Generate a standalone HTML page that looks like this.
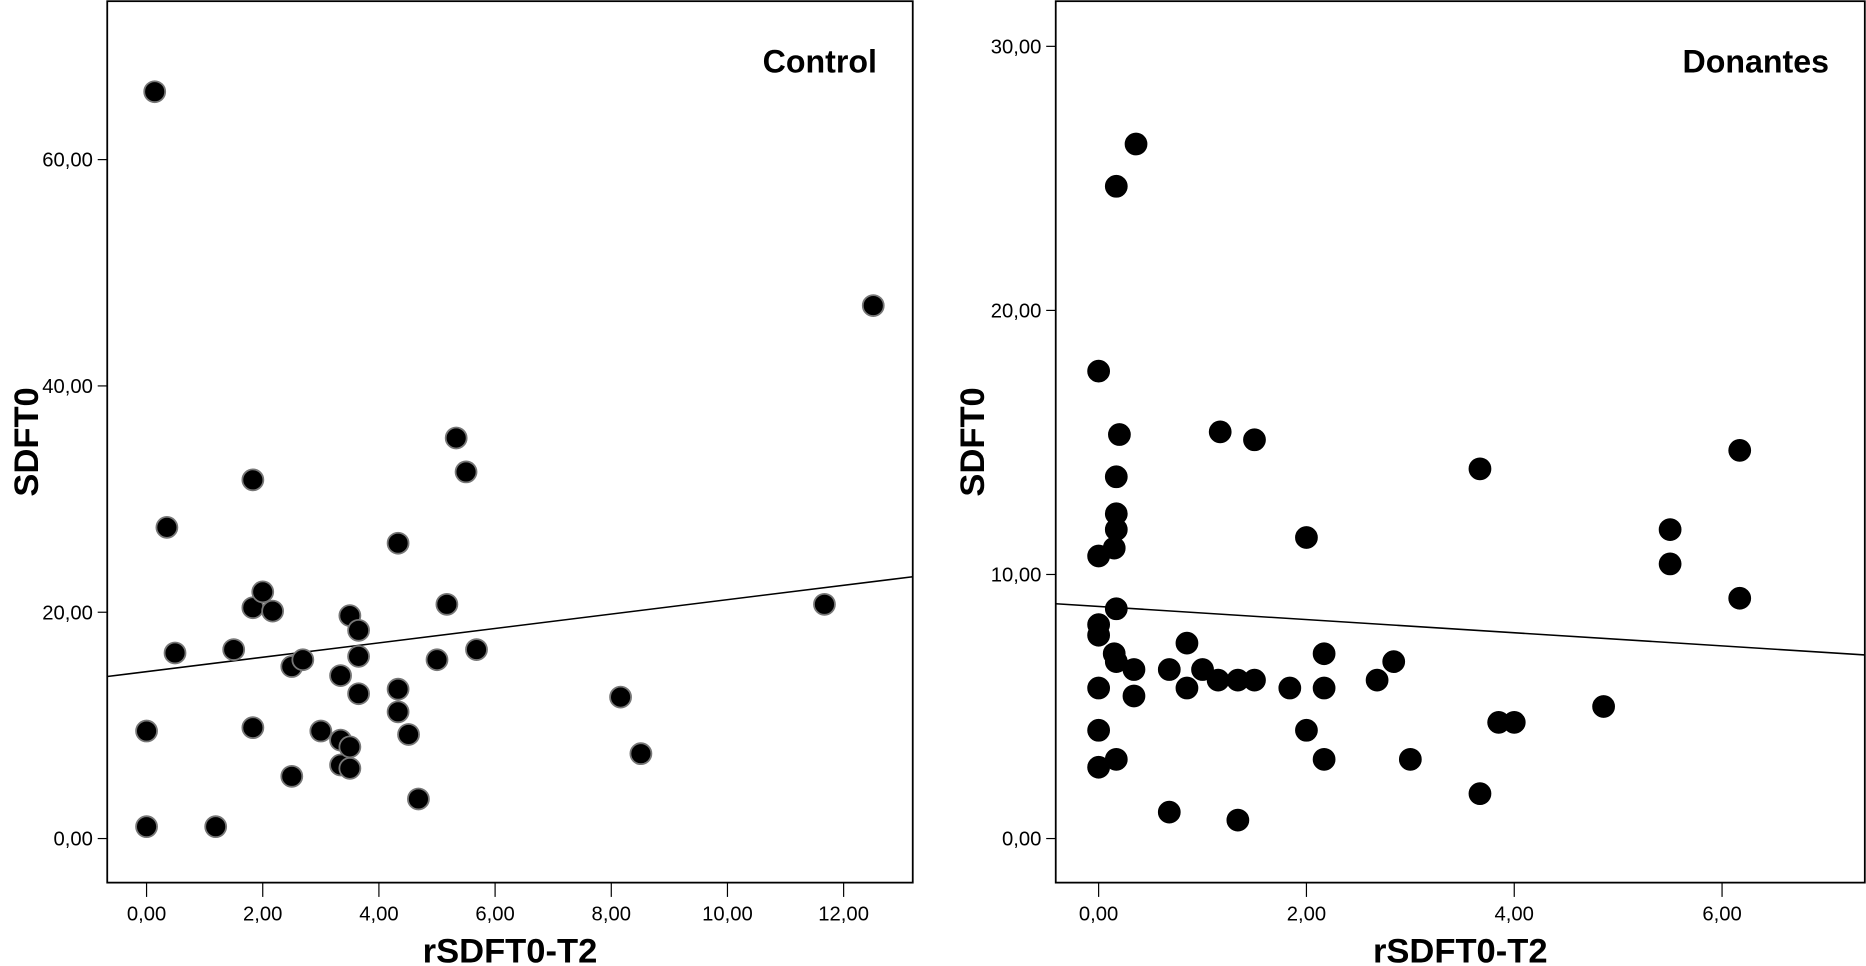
<!DOCTYPE html>
<html><head><meta charset="utf-8"><style>
html,body{margin:0;padding:0;background:#fff;}
svg{display:block;}
text{font-family:"Liberation Sans",Arial,sans-serif;fill:#000;}
</style></head>
<body>
<svg id="chart" width="1866" height="966" viewBox="0 0 1566 811" preserveAspectRatio="none" xmlns="http://www.w3.org/2000/svg"></svg>
<script>
// Control panel data
const controlX = [0.14,0.35,0,0,0.49,1.19,1.5,1.83,1.83,1.83,2.0,2.17,2.5,2.5,2.69,3.0,3.34,3.34,3.34,3.5,3.5,3.5,3.65,3.65,3.65,4.33,4.33,4.33,4.51,4.68,5.0,5.17,5.33,5.5,5.68,8.16,8.51,11.67,12.51];
const controlY = [66,27.5,9.5,1.05,16.4,1.05,16.7,31.7,20.4,9.8,21.8,20.1,15.2,5.5,15.8,9.5,14.4,8.7,6.5,19.7,8.1,6.2,18.4,16.1,12.8,26.1,13.2,11.2,9.2,3.5,15.8,20.7,35.4,32.4,16.7,12.5,7.5,20.7,47.1];
const controlXTicks = [0,2,4,6,8,10,12];
const controlYTicks = [0,20,40,60];
const controlFit = [14.75, 0.636]; // intercept, slope
// Donantes panel data
const donX = [0,0,0,0,0,0,0,0.17,0.36,0.2,0.17,0.17,0.17,0.15,0.17,0.15,0.17,0.17,0.34,0.34,0.68,0.68,0.85,0.85,1.0,1.15,1.17,1.34,1.34,1.5,1.5,1.84,2.0,2.0,2.17,2.17,2.17,2.68,2.84,3.0,3.67,3.67,3.85,4.0,4.86,5.5,5.5,6.17,6.17];
const donY = [17.7,10.7,8.1,7.7,5.7,4.1,2.7,24.7,26.3,15.3,13.7,12.3,11.7,11.0,8.7,7.0,6.7,3.0,6.4,5.4,1.0,6.4,7.4,5.7,6.4,6.0,15.4,6.0,0.7,6.0,15.1,5.7,11.4,4.1,7.0,5.7,3.0,6.0,6.7,3.0,14.0,1.7,4.4,4.4,5.0,10.4,11.7,14.7,9.1];
const donXTicks = [0,2,4,6];
const donYTicks = [0,10,20,30];
const donFit = [8.79, -0.249];

const NS = "http://www.w3.org/2000/svg";
const svg = document.getElementById('chart');
function mk(tag, attrs, parent){ const e=document.createElementNS(NS,tag); for(const k in attrs) e.setAttribute(k,attrs[k]); (parent||svg).appendChild(e); return e; }
function fmt(v){ return v.toFixed(2).replace('.',','); }

function panel(cfg){
  const g = mk('g',{});
  
  
  const L=cfg.left,R=cfg.right,T=1,B=741;
  const sx = v => cfg.x0px + v*cfg.xUnit;
  const sy = v => cfg.y0px - v*cfg.yUnit;
  const frame = mk('rect',{x:L,y:T,width:R-L,height:B-T,fill:'none',stroke:'#000','stroke-width':1.5},g);
  
  
  cfg.xTicks.forEach(t=>{
    mk('line',{x1:sx(t),x2:sx(t),y1:B,y2:B+12,stroke:'#000','stroke-width':1},g);
    const tx = mk('text',{x:sx(t),y:B+32,'font-size':17,'text-anchor':'middle'},g);
    tx.textContent = fmt(t);
    
    
  });
  cfg.yTicks.forEach(t=>{
    mk('line',{x1:L-8,x2:L,y1:sy(t),y2:sy(t),stroke:'#000','stroke-width':1},g);
    const tx = mk('text',{x:L-12,y:sy(t)+6,'font-size':17,'text-anchor':'end'},g);
    tx.textContent = fmt(t);
    
    
  });
  const xmin=(L-cfg.x0px)/cfg.xUnit, xmax=(R-cfg.x0px)/cfg.xUnit;
  const fl = mk('line',{x1:L,y1:sy(cfg.fit[0]+cfg.fit[1]*xmin),x2:R,y2:sy(cfg.fit[0]+cfg.fit[1]*xmax),stroke:'#000','stroke-width':1.3},g);
  
  
  cfg.xs.forEach((x,i)=>{
    const c = mk('circle',{cx:sx(x),cy:sy(cfg.ys[i]),r:8.8,fill:'#000',stroke:cfg.stroke,'stroke-width':1.5},g);
    
    
  });
  const title = mk('text',{x:R-30,y:61,'font-size':27,'font-weight':'bold','text-anchor':'end'},g);
  title.textContent = cfg.title;
  
  
  const xt = mk('text',{x:(L+R)/2,y:808,'font-size':29,'font-weight':'bold','text-anchor':'middle'},g);
  xt.textContent = 'rSDFT0-T2';
  
  
  const yt = mk('text',{x:0,y:0,'font-size':29,'font-weight':'bold','text-anchor':'middle',transform:`translate(${cfg.ytX},371) rotate(-90)`},g);
  yt.textContent = 'SDFT0';
  
  
}
panel({name:'control',title:'Control',left:90,right:766,x0px:123,xUnit:48.75,y0px:704,yUnit:9.5,xs:controlX,ys:controlY,xTicks:controlXTicks,yTicks:controlYTicks,fit:controlFit,stroke:'#777',ytX:32});
panel({name:'donantes',title:'Donantes',left:886,right:1565,x0px:922,xUnit:87.2,y0px:704,yUnit:22.17,xs:donX,ys:donY,xTicks:donXTicks,yTicks:donYTicks,fit:donFit,stroke:'#000',ytX:826});
</script>
</body></html>
